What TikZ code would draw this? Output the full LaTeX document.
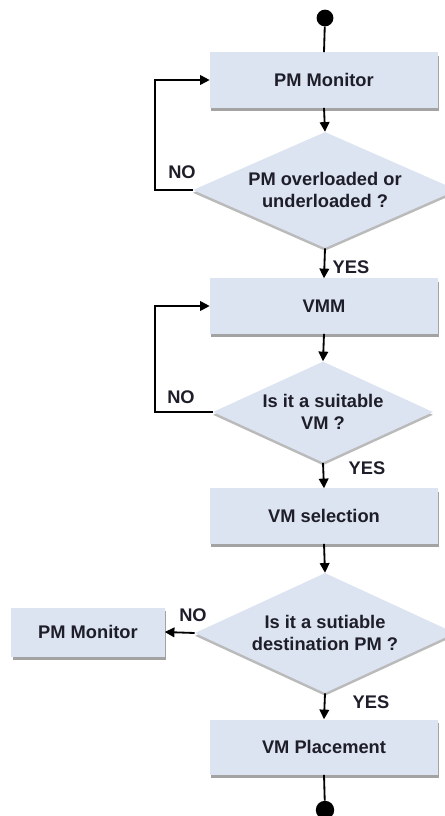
\documentclass[tikz,border=0pt]{standalone}
\usepackage{fontspec}
\setmainfont{Liberation Sans}
\usepackage{tikz}
\usetikzlibrary{shapes.geometric,arrows.meta,shadows}
\tikzset{every node/.append style={align=center}}
\definecolor{boxcolor}{RGB}{221, 228, 241}
\definecolor{inkcolor}{RGB}{30, 30, 42}
\definecolor{shadecolor}{RGB}{140, 140, 140}

\begin{document}
\begin{tikzpicture}[x=0.025cm, y=-0.025cm,
    font=\fontsize{13}{16}\selectfont\bfseries,
    proc/.style={fill=boxcolor, text=inkcolor, minimum width=5.7cm, minimum height=1.375cm,
                 drop shadow={shadow xshift=1pt, shadow yshift=-2.5pt, fill=shadecolor, opacity=0.8}},
    decision/.style={diamond, fill=boxcolor, text=inkcolor, inner sep=0pt,
                 drop shadow={shadow xshift=0pt, shadow yshift=-2pt, fill=shadecolor, opacity=0.6}},
    flow/.style={line width=1.3pt, -{Triangle[length=0.24cm, width=0.24cm]}},
    plain/.style={line width=1.3pt},
    lbl/.style={text=inkcolor, inner sep=0pt},
    enddot/.style={circle, fill=black, inner sep=0pt}]
    % page
    \useasboundingbox (0, 0) rectangle (445, 816);
    \clip (0, 0) rectangle (445, 816);

    % Start
    \node[enddot, minimum size=0.42cm] (start) at (325, 18) {};

    % Steps
    \node[proc] (pmmon) at (324, 80) {PM Monitor};
    \node[decision, aspect=2.28, minimum width=6.6cm, minimum height=2.9cm] (chkpm) at (325, 190)
        {PM overloaded or\\underloaded ?};
    \node[proc] (vmm) at (324, 306) {VMM};
    \node[decision, aspect=2.18, minimum width=5.5cm, minimum height=2.525cm] (chkvm) at (323, 412)
        {Is it a suitable\\VM ?};
    \node[proc] (vmsel) at (324, 516) {VM selection};
    \node[decision, aspect=2.17, minimum width=6.5cm, minimum height=3.0cm] (chkdest) at (325, 633)
        {Is it a sutiable\\destination PM ?};
    \node[proc] (vmplace) at (324, 747) {VM Placement};
    \node[proc, minimum width=3.825cm, minimum height=1.225cm] (pmback) at (88, 632) {PM Monitor};

    % End
    \node[enddot, minimum size=0.46cm] (stop) at (325, 810) {};

    % Connectors
    \draw[plain] (start) -- (pmmon.north);
    \draw[flow] (pmmon.south) -- (chkpm.north);
    \draw[flow] (chkpm.south) -- (vmm.north);
    \draw[flow] (vmm.south) -- (chkvm.north);
    \draw[flow] (chkvm.south) -- (vmsel.north);
    \draw[flow] (vmsel.south) -- (chkdest.north);
    \draw[flow] (chkdest.south) -- (vmplace.north);
    \draw[plain] (vmplace.south) -- (stop);
    \draw[flow] (chkpm.west) -- ++(-38, 0) |- (pmmon.west);
    \draw[flow] (chkvm.west) -- ++(-58, 0) |- (vmm.west);
    \draw[flow] (chkdest.west) -- (pmback.east);

    % Labels
    \node[lbl] (yes1) at (351, 267) {YES};
    \node[lbl] (yes2) at (367, 468) {YES};
    \node[lbl] (yes3) at (371, 702) {YES};
    \node[lbl] (no1) at (182, 172) {NO};
    \node[lbl] (no2) at (181, 397) {NO};
    \node[lbl] (no3) at (193, 615) {NO};
\end{tikzpicture}
\end{document}
